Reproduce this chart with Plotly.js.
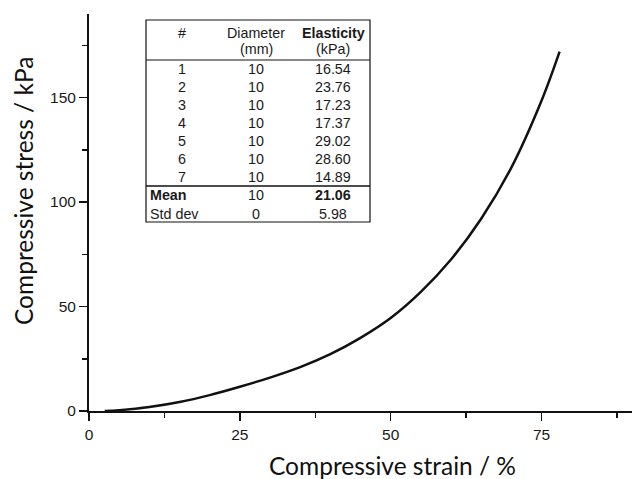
<!DOCTYPE html>
<html><head><meta charset="utf-8">
<script src="https://cdn.plot.ly/plotly-3.0.1.min.js"></script>
<style>html,body{margin:0;padding:0;background:#fff}#chart{width:632px;height:479px}</style>
</head><body><div id="chart"></div>
<script>
// Curve data
const strain = [2.6, 5, 10, 15, 20, 25, 30, 35, 40, 45, 50, 55, 60, 65, 70, 75, 78];
const stress = [0, 0.4, 1.9, 4.3, 7.6, 11.6, 16.0, 21.0, 27.2, 35.0, 44.5, 57, 72.5, 92, 116.5, 148.5, 172];

// Table contents
const colHeaders1 = ["#", "Diameter", "Elasticity"];
const colHeaders2 = ["", "(mm)", "(kPa)"];
const sampleIds = ["1", "2", "3", "4", "5", "6", "7"];
const diameters = ["10", "10", "10", "10", "10", "10", "10"];
const elasticity = ["16.54", "23.76", "17.23", "17.37", "29.02", "28.60", "14.89"];
const summaryLabels = ["Mean", "Std dev"];
const summaryDiam = ["10", "0"];
const summaryElast = ["21.06", "5.98"];

const W = 632, H = 479;
const M = {l: 89, r: 0, t: 14, b: 68};
const PW = W - M.l - M.r, PH = H - M.t - M.b;
const px = x => (x - M.l) / PW;
const py = y => (H - M.b - y) / PH;

const tf = {family: "Liberation Sans, Arial, sans-serif", size: 14.3, color: "#1a1a1a"};
const annotations = [];
const shapes = [];
const colX = [182, 256, 333];
const add = (x, y, text, opt = {}) => annotations.push(Object.assign({
  xref: "paper", yref: "paper", x: px(x), y: py(y), text: text, showarrow: false,
  xanchor: "center", yanchor: "middle", font: tf
}, opt));

colHeaders1.forEach((h, i) => add(colX[i], 33, i === 2 ? "<b>" + h + "</b>" : h));
colHeaders2.forEach((h, i) => { if (h) add(colX[i], 49, h); });
sampleIds.forEach((s, r) => {
  const y = 69 + r * 18;
  add(colX[0], y, s);
  add(colX[1], y, diameters[r]);
  add(colX[2], y, elasticity[r]);
});
summaryLabels.forEach((s, r) => {
  const y = 195 + r * 18.5;
  const b = r === 0;
  add(148, y, b ? "<b>" + s + "</b>" : s, {xanchor: "left"});
  add(colX[1], y, summaryDiam[r]);
  add(colX[2], y, b ? "<b>" + summaryElast[r] + "</b>" : summaryElast[r]);
});
// table borders
shapes.push({type: "rect", xref: "paper", yref: "paper", x0: px(146), x1: px(370), y0: py(20), y1: py(222),
  line: {color: "#111", width: 1.2}, fillcolor: "white", layer: "above"});
shapes.push({type: "line", xref: "paper", yref: "paper", x0: px(146), x1: px(370), y0: py(60), y1: py(60),
  line: {color: "#111", width: 1.2}});
shapes.push({type: "line", xref: "paper", yref: "paper", x0: px(146), x1: px(370), y0: py(186), y1: py(186),
  line: {color: "#111", width: 1.5}});

// axis titles as annotations
const titleFont = {family: "Lato, Open Sans, sans-serif", size: 24.5, color: "#111"};
add(392, 465, "Compressive strain / %", {font: titleFont});
add(23, 191, "Compressive stress / kPa", {font: titleFont, textangle: -90});

const trace = {x: strain, y: stress, type: "scatter", mode: "lines", line: {color: "#111", width: 2.5, shape: "spline", smoothing: 1}, hoverinfo: "skip"};

const axisCommon = {showgrid: false, zeroline: false, showline: true, linecolor: "#111", linewidth: 2,
  ticks: "outside", ticklen: 8, tickwidth: 1.5, tickcolor: "#111",
  tickfont: {family: "Liberation Sans, Arial, sans-serif", size: 15.5, color: "#1a1a1a"}};

const layout = {
  width: W, height: H, margin: M, paper_bgcolor: "white", plot_bgcolor: "white", showlegend: false,
  xaxis: Object.assign({}, axisCommon, {range: [0, 90], tickvals: [0, 25, 50, 75], ticktext: ["0", "25", "50", "75"],
    minor: {tickvals: [12.5, 37.5, 62.5, 87.5], ticks: "outside", ticklen: 5, tickwidth: 1.5, tickcolor: "#111"}}),
  yaxis: Object.assign({}, axisCommon, {range: [0, 190], tickvals: [0, 50, 100, 150], ticktext: ["0", "50", "100", "150"],
    minor: {tickvals: [25, 75, 125, 175], ticks: "outside", ticklen: 5, tickwidth: 1.5, tickcolor: "#111"}}),
  annotations: annotations, shapes: shapes
};
Plotly.newPlot("chart", [trace], layout, {staticPlot: true, displayModeBar: false});
</script></body></html>
